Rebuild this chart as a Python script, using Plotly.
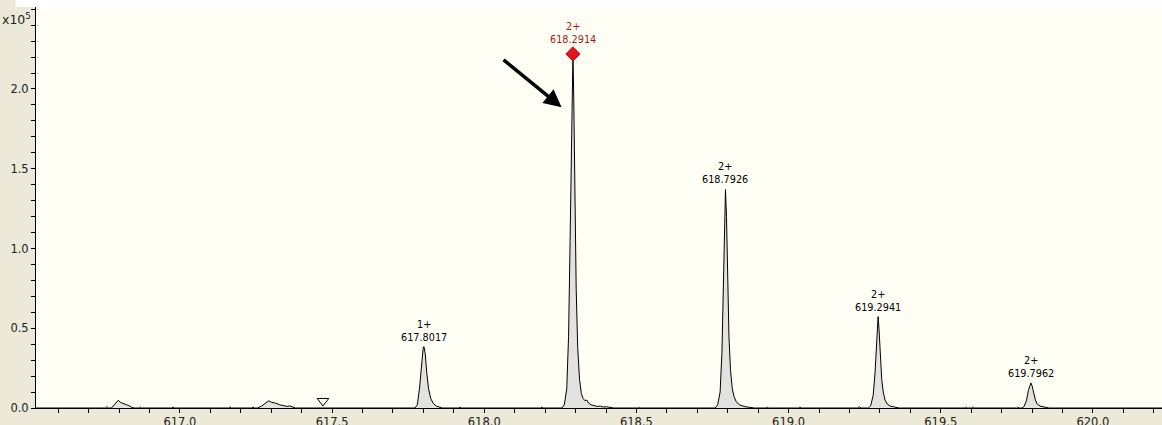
import plotly.graph_objects as go

# ---- data (m/z, intensity x1e5) ----
bump1_mz = [616.755, 616.760, 616.765, 616.775, 616.790, 616.797, 616.805, 616.815, 616.825, 616.835, 616.842, 616.850, 616.866, 616.870, 616.874]
bump1_int = [0.0, 0.008, 0.0, 0.0, 0.030, 0.048, 0.035, 0.025, 0.020, 0.012, 0.003, 0.0, 0.0, 0.006, 0.0]

noise_a_mz = [616.973, 616.977, 616.981, 617.160, 617.164, 617.168, 617.236, 617.240, 617.244]
noise_a_int = [0.0, 0.006, 0.0, 0.0, 0.006, 0.0, 0.0, 0.006, 0.0]

bump2_mz = [617.255, 617.268, 617.280, 617.292, 617.302, 617.315, 617.328, 617.340, 617.352, 617.360, 617.370, 617.380]
bump2_int = [0.0, 0.012, 0.030, 0.045, 0.035, 0.030, 0.020, 0.015, 0.010, 0.013, 0.006, 0.0]

peak1_mz = [617.772, 617.780, 617.787, 617.794, 617.799, 617.8017, 617.806, 617.811, 617.817, 617.824, 617.832, 617.842, 617.852, 617.862]
peak1_int = [0.0, 0.02, 0.12, 0.28, 0.37, 0.385, 0.34, 0.22, 0.12, 0.06, 0.03, 0.012, 0.006, 0.0]

noise_b_mz = [617.916, 617.920, 617.924, 617.998, 618.002, 618.006, 618.186, 618.190, 618.194]
noise_b_int = [0.0, 0.005, 0.0, 0.0, 0.004, 0.0, 0.0, 0.006, 0.0]

peak2_mz = [618.255, 618.263, 618.271, 618.277, 618.282, 618.286, 618.289, 618.2914, 618.294, 618.298,
            618.302, 618.307, 618.313, 618.319, 618.325, 618.331, 618.337, 618.343, 618.351, 618.361,
            618.371, 618.381, 618.391, 618.401, 618.411, 618.426]
peak2_int = [0.0, 0.02, 0.12, 0.45, 1.05, 1.65, 2.04, 2.22, 1.95, 1.35,
             0.75, 0.38, 0.18, 0.09, 0.06, 0.045, 0.05, 0.03, 0.02, 0.015,
             0.01, 0.012, 0.006, 0.008, 0.003, 0.0]

noise_c_mz = [618.506, 618.510, 618.514]
noise_c_int = [0.0, 0.004, 0.0]

peak3_mz = [618.759, 618.767, 618.775, 618.781, 618.786, 618.790, 618.7926, 618.796, 618.800, 618.804,
            618.809, 618.815, 618.821, 618.828, 618.838, 618.848, 618.858, 618.873, 618.888]
peak3_int = [0.0, 0.02, 0.10, 0.35, 0.75, 1.15, 1.37, 1.20, 0.80, 0.45,
             0.24, 0.12, 0.07, 0.04, 0.02, 0.012, 0.008, 0.004, 0.0]

noise_d_mz = [618.926, 618.930, 618.934, 619.033, 619.037, 619.041, 619.226, 619.232, 619.238]
noise_d_int = [0.0, 0.005, 0.0, 0.0, 0.005, 0.0, 0.0, 0.008, 0.0]

peak4_mz = [619.262, 619.270, 619.278, 619.284, 619.289, 619.292, 619.2941, 619.297, 619.301, 619.306,
            619.311, 619.317, 619.324, 619.334, 619.344, 619.354, 619.364]
peak4_int = [0.0, 0.015, 0.08, 0.22, 0.42, 0.54, 0.573, 0.50, 0.33, 0.18,
             0.10, 0.05, 0.025, 0.012, 0.008, 0.004, 0.0]

noise_e_mz = [619.580, 619.584, 619.588, 619.601, 619.605, 619.609, 619.749, 619.753, 619.757]
noise_e_int = [0.0, 0.006, 0.0, 0.0, 0.006, 0.0, 0.0, 0.006, 0.0]

peak5_mz = [619.766, 619.774, 619.782, 619.788, 619.793, 619.7962, 619.800, 619.805, 619.811, 619.817,
            619.826, 619.836, 619.846, 619.856]
peak5_int = [0.0, 0.01, 0.05, 0.11, 0.15, 0.157, 0.14, 0.09, 0.05, 0.025,
             0.012, 0.008, 0.004, 0.0]

x_start, x_end = 616.527, 620.227

# labelled centroids
label_mz = [617.8017, 618.2914, 618.7926, 619.2941, 619.7962]
label_int = [0.385, 2.22, 1.37, 0.573, 0.157]
label_charge = ["1+", "2+", "2+", "2+", "2+"]
selected_mz, selected_int = 618.2914, 2.22

marker_mz, marker_int = 617.47, 0.044   # open triangle

x_ticks = [617.0, 617.5, 618.0, 618.5, 619.0, 619.5, 620.0]
y_ticks = [0.0, 0.5, 1.0, 1.5, 2.0]

# ---- assemble the profile ----
segments = [(bump1_mz, bump1_int), (noise_a_mz, noise_a_int), (bump2_mz, bump2_int),
            (peak1_mz, peak1_int), (noise_b_mz, noise_b_int), (peak2_mz, peak2_int),
            (noise_c_mz, noise_c_int), (peak3_mz, peak3_int), (noise_d_mz, noise_d_int),
            (peak4_mz, peak4_int), (noise_e_mz, noise_e_int), (peak5_mz, peak5_int)]
mz = [x_start]
inten = [0.0]
for xs, ys in segments:
    mz += xs
    inten += ys
mz.append(x_end)
inten.append(0.0)

FONT = "DejaVu Sans"
fig = go.Figure()
fig.add_trace(go.Scatter(x=mz, y=inten, mode="lines", fill="tozeroy",
                         fillcolor="#E2E2DE", line=dict(color="#000000", width=1),
                         hoverinfo="skip", showlegend=False))
fig.add_trace(go.Scatter(x=[selected_mz], y=[selected_int], mode="markers",
                         marker=dict(symbol="diamond", size=11, color="#E3141E",
                                     line=dict(color="#B01018", width=1)),
                         showlegend=False, cliponaxis=False))
fig.add_trace(go.Scatter(x=[marker_mz], y=[marker_int], mode="markers",
                         marker=dict(symbol="triangle-down-open", size=10, color="#000000",
                                     line=dict(width=1)),
                         showlegend=False))

for m, h, c in zip(label_mz, label_int, label_charge):
    sel = (m == selected_mz)
    fig.add_annotation(x=m, y=h, text=f"{c}<br>{m:.4f}", showarrow=False,
                       xanchor="center", yanchor="bottom", yshift=7 if sel else 2,
                       font=dict(family=FONT, size=9.7, color="#A51A1A" if sel else "#000000"))

# black arrow pointing at the main peak
fig.add_annotation(x=618.254, y=1.886, ax=-60, ay=-49, text=" ", showarrow=True,
                   arrowhead=2, arrowsize=1, arrowwidth=3.5, arrowcolor="#000000",
                   font=dict(size=2))

# exponent label
fig.add_annotation(xref="paper", yref="paper", x=0, y=1, xanchor="right", yanchor="top",
                   xshift=-3, yshift=-2, text="x10<sup>5</sup>", showarrow=False,
                   font=dict(family=FONT, size=12.5, color="#222222"))

# white strip above the plot area
fig.add_shape(type="rect", xref="paper", yref="paper", x0=-0.018, x1=1.0, y0=1.0, y1=1.02,
              fillcolor="#FFFFFF", line=dict(width=0), layer="below")

fig.update_layout(
    width=1162, height=425,
    margin=dict(l=36, r=0, t=7, b=17),
    paper_bgcolor="#ECE9D8", plot_bgcolor="#FFFFF6",
    showlegend=False,
    xaxis=dict(range=[x_start, x_end], tickvals=x_ticks, ticktext=[f"{v:.1f}" for v in x_ticks],
               ticks="outside", ticklen=4, tickcolor="#000000", showgrid=False, zeroline=False,
               showline=True, linecolor="#000000", linewidth=1, automargin=False,
               ticklabelstandoff=-1,
               minor=dict(dtick=0.1, tick0=617.0, ticks="outside", ticklen=4, tickcolor="#000000", showgrid=False),
               tickfont=dict(family=FONT, size=11.5, color="#222222")),
    yaxis=dict(range=[0, 2.514], tickvals=y_ticks, ticktext=[f"{v:.1f}" for v in y_ticks],
               ticks="outside", ticklen=4, tickcolor="#000000", showgrid=False, zeroline=False,
               showline=True, linecolor="#000000", linewidth=1, automargin=False,
               minor=dict(dtick=0.1, tick0=0, ticks="outside", ticklen=4, tickcolor="#000000", showgrid=False),
               tickfont=dict(family=FONT, size=11.5, color="#222222")),
)

fig.write_html("out.html", config={"displayModeBar": False},
               post_script="document.body.style.margin='0';document.body.style.overflow='hidden';")
